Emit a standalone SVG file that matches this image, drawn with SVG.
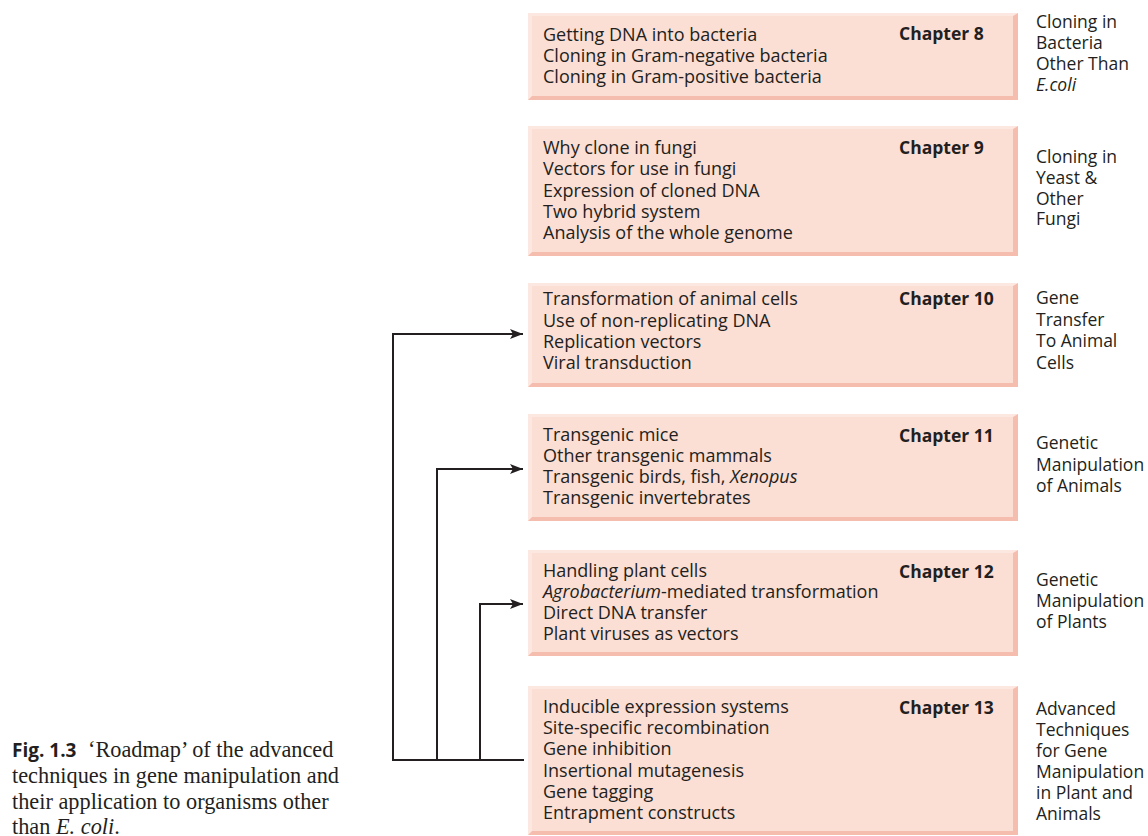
<svg xmlns="http://www.w3.org/2000/svg" width="1148" height="836" viewBox="0 0 1148 836">
<style>
.dk{fill:#f5bdae}
.lt{fill:#fde8e1}
.in{fill:#fbded4}
.t{font-family:"Open Sans","Liberation Sans",sans-serif;font-size:18px;fill:#231f20}
.ch{font-family:"Open Sans","Liberation Sans",sans-serif;font-size:17.5px;font-weight:bold;fill:#231f20}
.r{font-family:"Open Sans","Liberation Sans",sans-serif;font-size:17.5px;fill:#231f20}
.cap{font-family:"Liberation Serif",serif;font-size:22.3px;fill:#231f20}
.capb{font-family:"Open Sans","Liberation Sans",sans-serif;font-size:19px;font-weight:bold;fill:#231f20}
.ln{fill:none;stroke:#231f20;stroke-width:2}
</style>
<defs>
<marker id="ah" viewBox="0 0 13 10" refX="13" refY="5" markerWidth="13" markerHeight="10" markerUnits="userSpaceOnUse" orient="auto">
<path d="M0,0 L13,5 L0,10 L3,5 Z" fill="#231f20"/>
</marker>
</defs>

<g id="box8">
<rect class="dk" x="528" y="13" width="490" height="87"/>
<polygon class="lt" points="528,13 1018,13 1013,16 532,16 532,96 528,100"/>
<rect class="in" x="532" y="16" width="481" height="80"/>
<text class="t" x="543" y="40.5">Getting DNA into bacteria</text>
<text class="t" x="543" y="61.5">Cloning in Gram-negative bacteria</text>
<text class="t" x="543" y="82.5">Cloning in Gram-positive bacteria</text>
<text class="ch" x="899" y="39.5">Chapter 8</text>
</g>
<g id="label8">
<text class="r" x="1036" y="28">Cloning in</text>
<text class="r" x="1036" y="49">Bacteria</text>
<text class="r" x="1036" y="70">Other Than</text>
<text class="r" x="1036" y="91" font-style="italic">E.coli</text>
</g>

<g id="box9">
<rect class="dk" x="528" y="126" width="490" height="130"/>
<polygon class="lt" points="528,126 1018,126 1013,129 532,129 532,252 528,256"/>
<rect class="in" x="532" y="129" width="481" height="123"/>
<text class="t" x="543" y="154">Why clone in fungi</text>
<text class="t" x="543" y="175">Vectors for use in fungi</text>
<text class="t" x="543" y="196.5">Expression of cloned DNA</text>
<text class="t" x="543" y="218">Two hybrid system</text>
<text class="t" x="543" y="239">Analysis of the whole genome</text>
<text class="ch" x="899" y="154">Chapter 9</text>
</g>
<g id="label9">
<text class="r" x="1036" y="163">Cloning in</text>
<text class="r" x="1036" y="184">Yeast &amp;</text>
<text class="r" x="1036" y="204.5">Other</text>
<text class="r" x="1036" y="225">Fungi</text>
</g>

<g id="box10">
<rect class="dk" x="528" y="283" width="490" height="104"/>
<polygon class="lt" points="528,283 1018,283 1013,286 532,286 532,383 528,387"/>
<rect class="in" x="532" y="286" width="481" height="97"/>
<text class="t" x="543" y="305">Transformation of animal cells</text>
<text class="t" x="543" y="327">Use of non-replicating DNA</text>
<text class="t" x="543" y="348">Replication vectors</text>
<text class="t" x="543" y="369">Viral transduction</text>
<text class="ch" x="899" y="305">Chapter 10</text>
</g>
<g id="label10">
<text class="r" x="1036" y="304">Gene</text>
<text class="r" x="1036" y="326">Transfer</text>
<text class="r" x="1036" y="347">To Animal</text>
<text class="r" x="1036" y="369">Cells</text>
</g>

<g id="box11">
<rect class="dk" x="528" y="414" width="490" height="107"/>
<polygon class="lt" points="528,414 1018,414 1013,417 532,417 532,517 528,521"/>
<rect class="in" x="532" y="417" width="481" height="100"/>
<text class="t" x="543" y="441">Transgenic mice</text>
<text class="t" x="543" y="462">Other transgenic mammals</text>
<text class="t" x="543" y="483">Transgenic birds, fish, <tspan font-style="italic">Xenopus</tspan></text>
<text class="t" x="543" y="504">Transgenic invertebrates</text>
<text class="ch" x="899" y="442">Chapter 11</text>
</g>
<g id="label11">
<text class="r" x="1036" y="449">Genetic</text>
<text class="r" x="1036" y="471">Manipulation</text>
<text class="r" x="1036" y="492">of Animals</text>
</g>

<g id="box12">
<rect class="dk" x="528" y="550" width="490" height="106"/>
<polygon class="lt" points="528,550 1018,550 1013,553 532,553 532,652 528,656"/>
<rect class="in" x="532" y="553" width="481" height="99"/>
<text class="t" x="543" y="577">Handling plant cells</text>
<text class="t" x="543" y="598"><tspan font-style="italic">Agrobacterium</tspan>-mediated transformation</text>
<text class="t" x="543" y="619">Direct DNA transfer</text>
<text class="t" x="543" y="640">Plant viruses as vectors</text>
<text class="ch" x="899" y="578">Chapter 12</text>
</g>
<g id="label12">
<text class="r" x="1036" y="586">Genetic</text>
<text class="r" x="1036" y="607">Manipulation</text>
<text class="r" x="1036" y="628">of Plants</text>
</g>

<g id="box13">
<rect class="dk" x="528" y="686" width="490" height="149"/>
<polygon class="lt" points="528,686 1018,686 1013,689 532,689 532,831 528,835"/>
<rect class="in" x="532" y="689" width="481" height="142"/>
<text class="t" x="543" y="713">Inducible expression systems</text>
<text class="t" x="543" y="734">Site-specific recombination</text>
<text class="t" x="543" y="755">Gene inhibition</text>
<text class="t" x="543" y="777">Insertional mutagenesis</text>
<text class="t" x="543" y="798">Gene tagging</text>
<text class="t" x="543" y="819">Entrapment constructs</text>
<text class="ch" x="899" y="714">Chapter 13</text>
</g>
<g id="label13">
<text class="r" x="1036" y="715">Advanced</text>
<text class="r" x="1036" y="736">Techniques</text>
<text class="r" x="1036" y="757">for Gene</text>
<text class="r" x="1036" y="778">Manipulation</text>
<text class="r" x="1036" y="799">in Plant and</text>
<text class="r" x="1036" y="820">Animals</text>
</g>

<g id="connectors">
<path class="ln" d="M524,760 H393 V334 H523" marker-end="url(#ah)"/>
<path class="ln" d="M437,760 V469 H523" marker-end="url(#ah)"/>
<path class="ln" d="M480,760 V604 H523" marker-end="url(#ah)"/>
</g>

<g id="caption">
<text class="cap" x="12" y="757"><tspan class="capb">Fig. 1.3</tspan><tspan x="88">‘Roadmap’ of the advanced</tspan></text>
<text class="cap" x="12" y="783">techniques in gene manipulation and</text>
<text class="cap" x="12" y="809">their application to organisms other</text>
<text class="cap" x="12" y="834">than <tspan font-style="italic">E. coli</tspan>.</text>
</g>
</svg>
